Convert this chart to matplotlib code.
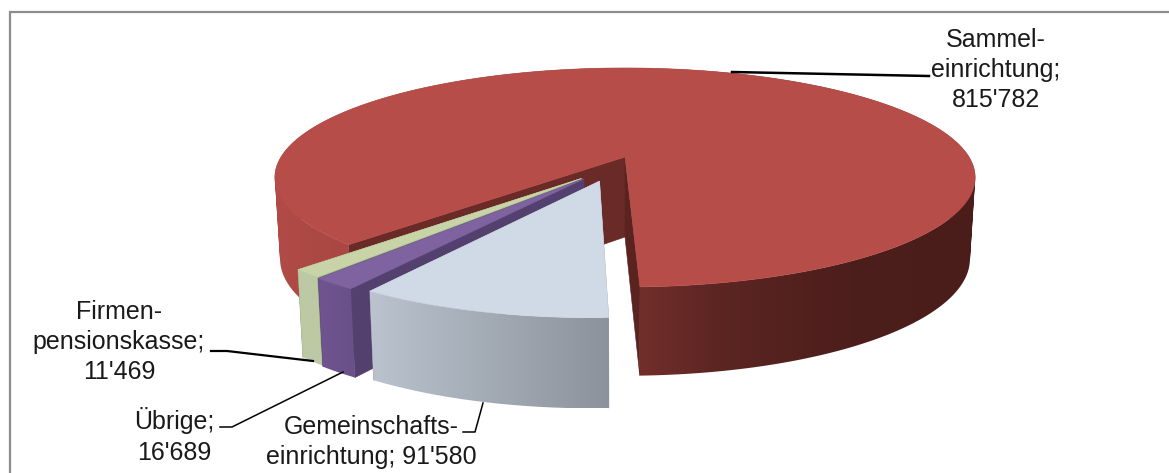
import matplotlib
matplotlib.use("Agg")
import matplotlib.pyplot as plt
from matplotlib.patches import Polygon, PathPatch
from matplotlib.path import Path
import numpy as np

# ---------- data ----------
categories = ["Sammel-\neinrichtung;\n815'782",
              "Gemeinschafts-\neinrichtung; 91'580",
              "Übrige;\n16'689",
              "Firmen-\npensionskasse;\n11'469"]
values = [815782, 91580, 16689, 11469]

# ---------- look ----------
explode = [0.0, 0.23, 0.23, 0.23]
explode_dir = [0, 252, 240, 238]
radius = [1.0, 0.965, 0.97, 0.965]
top_colors = ["#B64D48", "#D0DAE7", "#7F63A1", "#C8D3A8"]
face_colors = ["#6A2A27", "#8D949C", "#54406F", "#8E9A74"]
# side colour stops, along the screen x of the rim
side_stops = [
    ([275, 350, 640, 720, 850, 975], ["#B04B47", "#AA4743", "#722E2B", "#5C2522", "#4C1E1C", "#4A1D1B"]),
    ([369, 610], ["#BAC3CE", "#8B929B"]),
    ([320, 355], ["#6F5490", "#6A5088"]),
    ([298, 318], ["#BCC9A4", "#BCC9A4"]),
]
start_angle = 225.95

# ---------- projection ----------
CX, CY = 625, 157
RX, RY = 344, 105.7
K = 0.187
DEPTH = 80


def project(u, v, low=False):
    w = 1 + K * v
    x = RX * u / w
    y = CY - RY * v / w
    if low:
        return CX + x * 0.985, y + DEPTH / np.sqrt(w)
    return CX + x, y


def rim_path(xt, yt, xl, yl):
    # one quad per rim step, all wound the same way so they add up
    verts, codes = [], []
    for i in range(len(xt) - 1):
        q = [(xt[i], yt[i]), (xt[i + 1], yt[i + 1]), (xl[i + 1], yl[i + 1]), (xl[i], yl[i])]
        area = sum(q[j][0] * q[(j + 1) % 4][1] - q[(j + 1) % 4][0] * q[j][1] for j in range(4))
        if area < 0:
            q = q[::-1]
        verts += q + [q[0]]
        codes += [Path.MOVETO, Path.LINETO, Path.LINETO, Path.LINETO, Path.CLOSEPOLY]
    return Path(verts, codes)


def gradient_band(ax, path, stops, z):
    # horizontal colour run, clipped to the rim outline
    sx, cols = stops
    rgb = np.array([matplotlib.colors.to_rgb(c) for c in cols])
    x0, y0 = path.vertices.min(axis=0)
    x1, y1 = path.vertices.max(axis=0)
    grid = np.linspace(x0, x1, 512)
    img = np.stack([np.interp(grid, sx, rgb[:, i]) for i in range(3)], axis=-1)[None, :, :]
    im = ax.imshow(img, extent=(x0, x1, y1, y0), aspect="auto", zorder=z, interpolation="bilinear")
    im.set_clip_path(PathPatch(path, transform=ax.transData))


def draw_slice(ax, a0, a1, ex, ex_dir, rad, top, face, stops, z, face_right=None):
    # a0 > a1, clockwise in degrees
    ou, ov = ex * np.cos(np.radians(ex_dir)), ex * np.sin(np.radians(ex_dir))
    t = np.radians(np.arange(a0, a1, -0.5).tolist() + [a1])
    u = ou + rad * np.cos(t)
    v = ov + rad * np.sin(t)
    xt, yt = project(u, v)
    xl, yl = project(u, v, low=True)
    ax0, ay0 = project(ou, ov)
    ax1, ay1 = project(ou, ov, low=True)

    # cut faces first, the rim and top go over them
    ax.add_patch(Polygon([(ax0, ay0), (xt[0], yt[0]), (xl[0], yl[0]), (ax1, ay1)],
                         closed=True, fc=face, ec=face, lw=0.4, zorder=z))
    ax.add_patch(Polygon([(ax0, ay0), (xt[-1], yt[-1]), (xl[-1], yl[-1]), (ax1, ay1)],
                         closed=True, fc=face_right or face, ec=face_right or face, lw=0.4, zorder=z + 0.1))
    gradient_band(ax, rim_path(xt, yt, xl, yl), stops, z + 0.2)
    ax.add_patch(Polygon(np.column_stack([np.r_[ax0, xt], np.r_[ay0, yt]]),
                         closed=True, fc=top, ec=top, lw=0.4, zorder=z + 0.3))


fig = plt.figure(figsize=(11.69, 4.73), dpi=100)
ax = fig.add_axes([0, 0, 1, 1])
ax.axis("off")

# chart frame
ax.plot([10, 10, 1169], [473, 12, 12], color="#8C8C8C", lw=1.6, zorder=1, solid_joinstyle="miter")

# ---------- slices ----------
sweep = np.array(values) / sum(values) * 360
ends = start_angle - np.cumsum(sweep)
starts = np.r_[start_angle, ends[:-1]]

# red first, then from back to front
z = 2
for i in [0, 3, 2, 1]:
    draw_slice(ax, starts[i], ends[i], explode[i], explode_dir[i], radius[i], top_colors[i], face_colors[i],
               side_stops[i], z, face_right="#5A2320" if i == 0 else None)
    z += 1

ax.set_xlim(0, 1169)
ax.set_ylim(473, 0)

# ---------- labels ----------
plt.rcParams["font.family"] = ["Liberation Sans", "DejaVu Sans"]
fs = 18
label_pos = [(996, 70), (371, 442), (174, 436), (119, 342)]
for name, (lx, ly) in zip(categories, label_pos):
    ax.text(lx, ly, name, ha="center", va="center", fontsize=fs, color="#1A1A1A", linespacing=1.34, zorder=20)

# leader lines
ax.plot([732, 929], [72, 76], color="black", lw=1.8, zorder=19)
ax.plot([211, 227, 313], [351, 351, 361], color="black", lw=1.6, zorder=19)
ax.plot([220, 232, 343], [427, 427, 372], color="black", lw=1.1, zorder=19)
ax.plot([463, 475, 483], [432, 432, 403], color="black", lw=1.1, zorder=19)

fig.savefig("out.png", dpi=100)
